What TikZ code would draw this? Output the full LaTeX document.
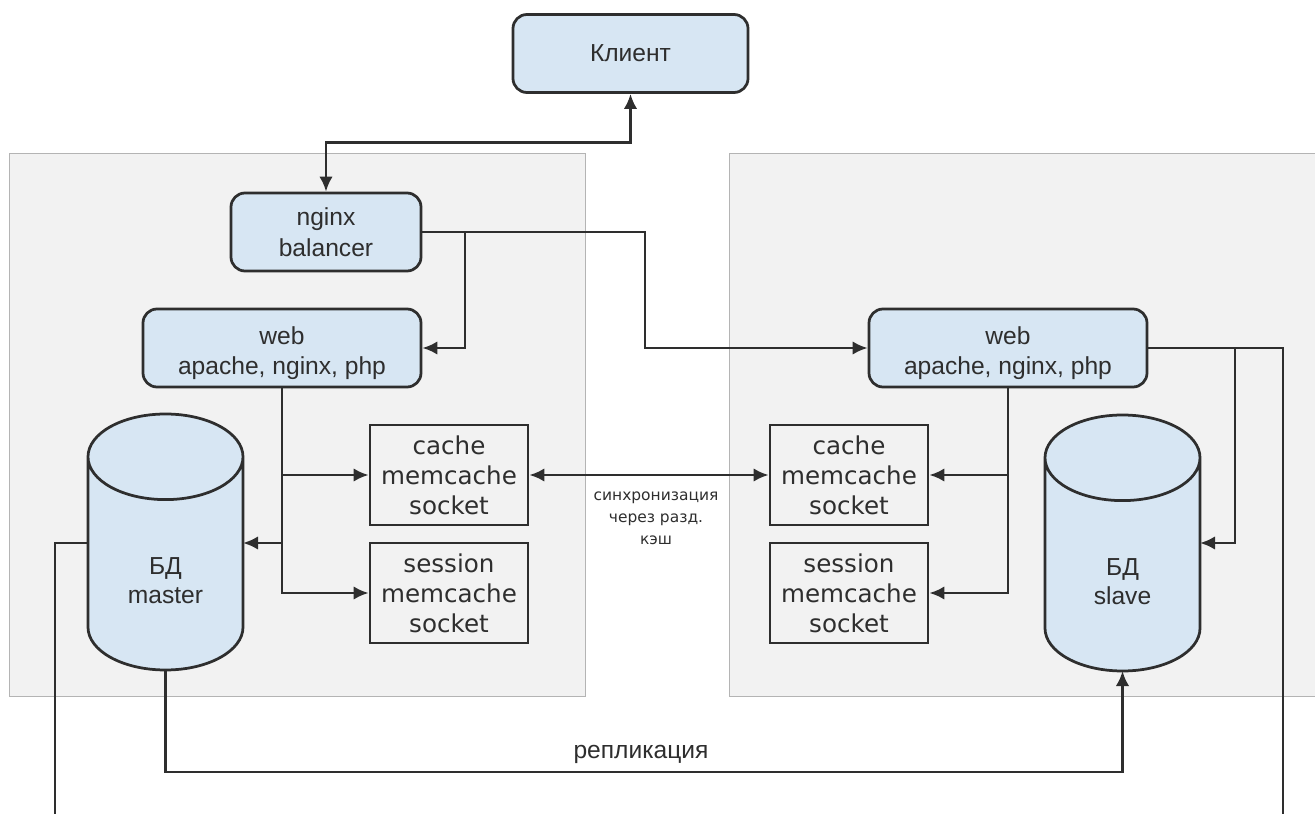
\documentclass[tikz,border=0pt]{standalone}
\usepackage{fontspec}
\setmainfont{Liberation Sans}
\newfontfamily\boxfont{DejaVu Sans}
\usetikzlibrary{arrows.meta,shapes.geometric}
\definecolor{panelgray}{HTML}{F2F2F2}
\definecolor{panelline}{HTML}{B4B4B4}
\definecolor{nodeblue}{HTML}{D7E6F3}
\definecolor{inkgray}{HTML}{2E2E2E}
\begin{document}
\begin{tikzpicture}[x=0.2mm, y=-0.2mm, >={Latex[length=3mm,width=2.7mm]},
                    line width=0.55mm, draw=inkgray,
                    panel node/.style={rectangle,draw=panelline,line width=0.2mm,fill=panelgray,inner sep=0pt,minimum height=108.4mm},
                    main node/.style={rectangle,rounded corners=2.8mm,draw=inkgray,fill=nodeblue,text=inkgray,align=center,inner sep=0pt,font=\fontsize{14}{17.6}\selectfont,minimum height=15.6mm},
                    mem node/.style={rectangle,draw=inkgray,text=inkgray,align=center,inner sep=0pt,font=\boxfont\fontsize{14}{17}\selectfont,minimum width=31.6mm,minimum height=20mm},
                    db node/.style={cylinder,shape border rotate=90,aspect=1.07,anchor=south,draw=inkgray,cylinder uses custom fill,cylinder body fill=nodeblue,cylinder end fill=nodeblue,text=inkgray,text width=16mm,align=center,inner sep=0pt,outer sep=0pt,font=\fontsize{14}{16.5}\selectfont,minimum width=31mm,minimum height=51.2mm}]

  \useasboundingbox (0,0) rectangle (1315,814);

  \node[panel node, minimum width=115mm] (panelleft) at (297.5,425) {};
  \node[panel node, minimum width=120mm] (panelright) at (1029,425) {};

  \node[main node, minimum width=47mm] (client) at (630.5,53.5) {Клиент};
  \node[main node, minimum width=38mm] (balancer) at (326,232) {nginx\\balancer};
  \node[main node, minimum width=55.6mm] (webleft) at (282,348) {\rule{0pt}{16pt}web\\apache, nginx, php};
  \node[main node, minimum width=55.6mm] (webright) at (1008,348) {\rule{0pt}{16pt}web\\apache, nginx, php};

  \node[mem node] (cacheleft) at (449,475) {cache\\memcache\\socket};
  \node[mem node] (sessionleft) at (449,593) {session\\memcache\\socket};
  \node[mem node] (cacheright) at (849,475) {cache\\memcache\\socket};
  \node[mem node] (sessionright) at (849,593) {session\\memcache\\socket};

  \node[db node] (dbmaster) at (165.5,670) {\rule{0pt}{28pt}БД\\master};
  \node[db node] (dbslave) at (1122.5,671) {\rule{0pt}{28pt}БД\\slave};

  \node[font=\boxfont\fontsize{8.8}{12.5}\selectfont, text=inkgray, align=center] (synclabel) at (656,518) {синхронизация\\через разд.\\кэш};
  \node[font=\fontsize{14}{17}\selectfont, text=inkgray] (repllabel) at (641,754) {репликация};

  \coordinate (masterleft) at (88,543);
  \coordinate (masterright) at (243,543);
  \coordinate (slaveright) at (1200,543);
  \coordinate (exitleft) at (55,814);
  \coordinate (exitright) at (1283,814);

  \draw[<->] (client.south) -- ++(0,49) -| (balancer.north);
  \draw[->] (balancer.east) -| (465,348) -- (webleft.east);
  \draw[->] (balancer.east) -| (645,348) -- (webright.west);

  \draw[->] (webleft.south) |- (sessionleft.west);
  \draw[->] (webleft.south |- cacheleft.west) -- (cacheleft.west);
  \draw[->] (webleft.south |- masterright) -- (masterright);

  \draw[->] (webright.south) |- (sessionright.east);
  \draw[->] (webright.south |- cacheright.east) -- (cacheright.east);
  \draw[->] (webright.east) -| (1235,543) -- (slaveright);
  \draw (webright.east) -| (exitright);

  \draw[<->] (cacheleft.east) -- (cacheright.west);
  \draw (masterleft) -| (exitleft);
  \draw[->] (dbmaster.south) |- (640,772) -| (dbslave.south);

\end{tikzpicture}
\end{document}
